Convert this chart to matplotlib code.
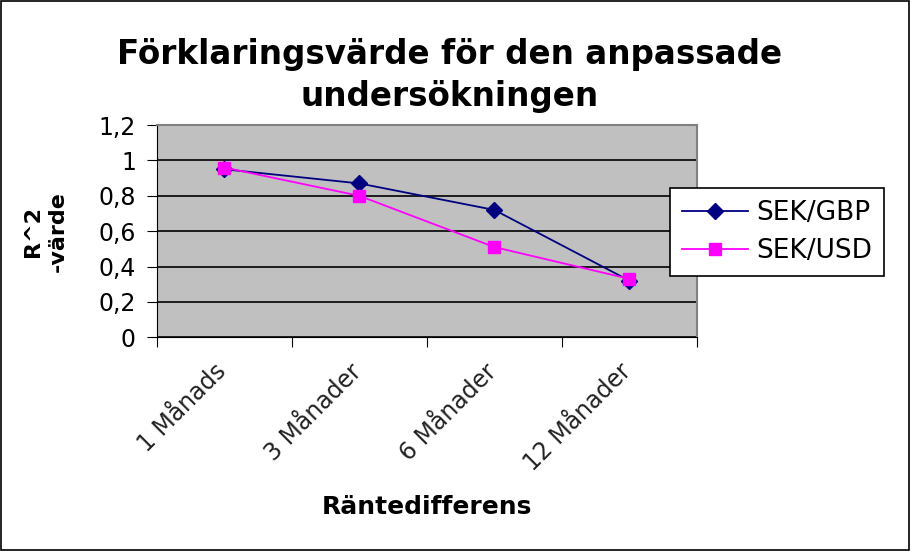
import matplotlib
matplotlib.use('Agg')
import matplotlib.pyplot as plt
import matplotlib.transforms as mtransforms
import numpy as np

plt.rcParams['font.family'] = ['DejaVu Sans']

categories = ['1 Månads', '3 Månader', '6 Månader', '12 Månader']
sek_gbp = [0.95, 0.87, 0.72, 0.32]
sek_usd = [0.96, 0.80, 0.51, 0.33]
y_ticks = [0, 0.2, 0.4, 0.6, 0.8, 1, 1.2]
y_labels = ['0', '0,2', '0,4', '0,6', '0,8', '1', '1,2']

fig = plt.figure(figsize=(9.11, 5.51), dpi=100)
# frame round the whole picture
fig.patches.append(plt.Rectangle((0.001, 0.001), 0.997, 0.997, transform=fig.transFigure,
                                 fill=False, edgecolor='black', linewidth=1.2))

ax = fig.add_axes([0.172, 0.388, 0.593, 0.385])
ax.set_facecolor('#C0C0C0')

x = np.arange(len(categories)) + 0.5
ax.plot(x, sek_gbp, color='#000080', marker='D', markersize=8, linewidth=1.3, label='SEK/GBP', zorder=3)
ax.plot(x, sek_usd, color='#FF00FF', marker='s', markersize=9, linewidth=1.3, label='SEK/USD', zorder=3)

ax.set_xlim(0, len(categories))
ax.set_ylim(0, 1.2)
ax.set_yticks(y_ticks)
ax.set_yticklabels(y_labels, fontsize=17)
ax.yaxis.grid(True, color='black', linewidth=1.2)
ax.set_axisbelow(True)

ax.set_xticks(np.arange(len(categories) + 1))
ax.set_xticklabels([])
ax.set_xticks(x, minor=True)
ax.set_xticklabels(categories, minor=True, rotation=45, ha='right', rotation_mode='anchor',
                   fontsize=17, color='#222222')
ax.tick_params(axis='x', which='minor', length=0, pad=16)
ax.tick_params(axis='both', which='major', direction='out', length=7, color='black')
ax.tick_params(axis='y', pad=8)
# nudge the slanted labels a little to the left
shift = mtransforms.ScaledTranslation(-10 / 100, 0, fig.dpi_scale_trans)
for lab in ax.get_xticklabels(minor=True):
    lab.set_transform(lab.get_transform() + shift)

for side in ['top', 'right']:
    ax.spines[side].set_color('#808080')
    ax.spines[side].set_linewidth(1.5)
for side in ['left', 'bottom']:
    ax.spines[side].set_color('black')

ax.set_title('Förklaringsvärde för den anpassade\nundersökningen', fontsize=23.5,
             fontweight='bold', pad=14, linespacing=1.35, x=(450 - 157) / 540)
ax.set_ylabel('R^2\n-värde', fontsize=16, fontweight='bold', labelpad=22, linespacing=1.3)
ax.set_xlabel('Räntedifferens', fontsize=18, fontweight='bold', va='center')
ax.xaxis.set_label_coords(0.5, (337 - 507) / 212)

leg = fig.legend(loc='upper left', bbox_to_anchor=(670 / 911, 1 - 188 / 551), fontsize=19,
                 frameon=True, fancybox=False, edgecolor='black', facecolor='white',
                 framealpha=1, handlelength=2.5, handletextpad=0.3, borderpad=0.45,
                 borderaxespad=0, labelspacing=0.45)
leg.get_frame().set_linewidth(1.2)

fig.savefig('out.png', dpi=100)
